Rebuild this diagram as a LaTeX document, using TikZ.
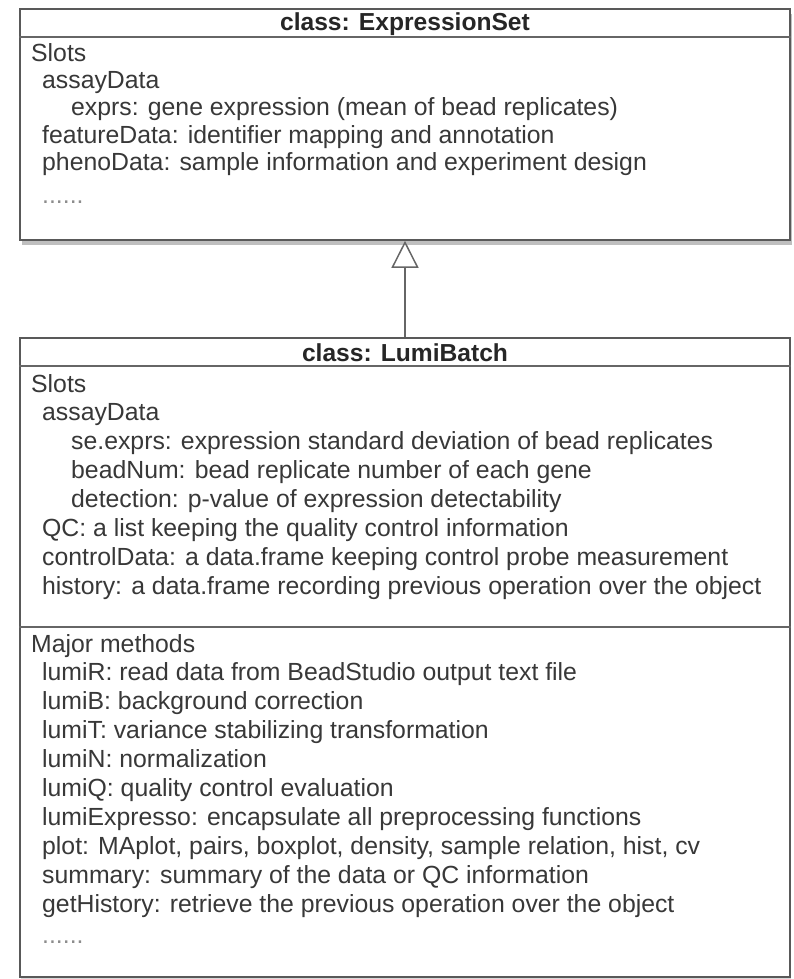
\documentclass[tikz,border=0pt]{standalone}
\usepackage{fontspec}
\setmainfont{Liberation Sans}
\usetikzlibrary{arrows.meta, shadows}

\begin{document}
\begin{tikzpicture}[
    x=1pt, y=-1pt,
    classbox/.style={rectangle, draw=black!65, line width=1.6pt, fill=white, minimum width=770pt, inner sep=0pt},
    title/.style={font=\fontsize{24.6}{29}\selectfont\bfseries, text=black!85, inner sep=0pt, anchor=base},
    member/.style={font=\fontsize{24.8}{29}\selectfont, text=black!78, inner sep=0pt, anchor=base west},
    sep/.style={draw=black!60, line width=2pt},
    inherit/.style={draw=black!60, line width=1.5pt, -{Triangle[open, length=27pt, width=27pt]}},
]
\useasboundingbox (0,0) rectangle (793,979);

% Class boxes
\node[classbox, minimum height=231pt, drop shadow={shadow xshift=2pt, shadow yshift=-5pt, opacity=0.5}] (exprBox) at (405,124.5) {};
\node[classbox, minimum height=639pt, drop shadow={shadow xshift=1pt, shadow yshift=-2pt, opacity=0.3}] (lumiBox) at (405,657.5) {};

% Compartment lines
\draw[sep] ([yshift=-29pt]exprBox.north west) -- ([yshift=-29pt]exprBox.north east);
\draw[sep] ([yshift=-29pt]lumiBox.north west) -- ([yshift=-29pt]lumiBox.north east);
\draw[sep] ([yshift=-290pt]lumiBox.north west) -- ([yshift=-290pt]lumiBox.north east);

% Generalization
\draw[inherit] (lumiBox.north) -- (exprBox.south);

% ExpressionSet
\node[title] (exprTitle) at (405,31) {class: ExpressionSet};
\node[member] (exprSlots) at (31,62) {Slots};
\node[member] (exprAssay) at (42,89) {assayData};
\node[member] (exprExprs) at (71,116) {exprs: gene expression (mean of bead replicates)};
\node[member] (exprFeature) at (42,143) {featureData: identifier mapping and annotation};
\node[member] (exprPheno) at (42,170) {phenoData: sample information and experiment design};
\node[member, text=black!45] (exprMore) at (42,203) {......};

% LumiBatch slots
\node[title] (lumiTitle) at (405,361) {class: LumiBatch};
\node[member] (lumiSlots) at (31,392) {Slots};
\node[member] (lumiAssay) at (42,420.9) {assayData};
\node[member] (lumiSe) at (71,449.8) {se.exprs: expression standard deviation of bead replicates};
\node[member] (lumiBead) at (71,478.7) {beadNum: bead replicate number of each gene};
\node[member] (lumiDetect) at (71,507.6) {detection: p-value of expression detectability};
\node[member] (lumiQC) at (42,536.5) {QC: a list keeping the quality control information};
\node[member] (lumiControl) at (42,565.4) {controlData: a data.frame keeping control probe measurement};
\node[member] (lumiHistory) at (42,594.3) {history: a data.frame recording previous operation over the object};

% LumiBatch methods
\node[member] (lumiMethods) at (31,652) {Major methods};
\node[member] (methR) at (42,680.9) {lumiR: read data from BeadStudio output text file};
\node[member] (methB) at (42,709.8) {lumiB: background correction};
\node[member] (methT) at (42,738.7) {lumiT: variance stabilizing transformation};
\node[member] (methN) at (42,767.6) {lumiN: normalization};
\node[member] (methQ) at (42,796.5) {lumiQ: quality control evaluation};
\node[member] (methExpresso) at (42,825.4) {lumiExpresso: encapsulate all preprocessing functions};
\node[member] (methPlot) at (42,854.3) {plot: MAplot, pairs, boxplot, density, sample relation, hist, cv};
\node[member] (methSummary) at (42,883.2) {summary: summary of the data or QC information};
\node[member] (methHistory) at (42,912.1) {getHistory: retrieve the previous operation over the object};
\node[member, text=black!45] (methMore) at (42,943) {......};

\end{tikzpicture}
\end{document}
